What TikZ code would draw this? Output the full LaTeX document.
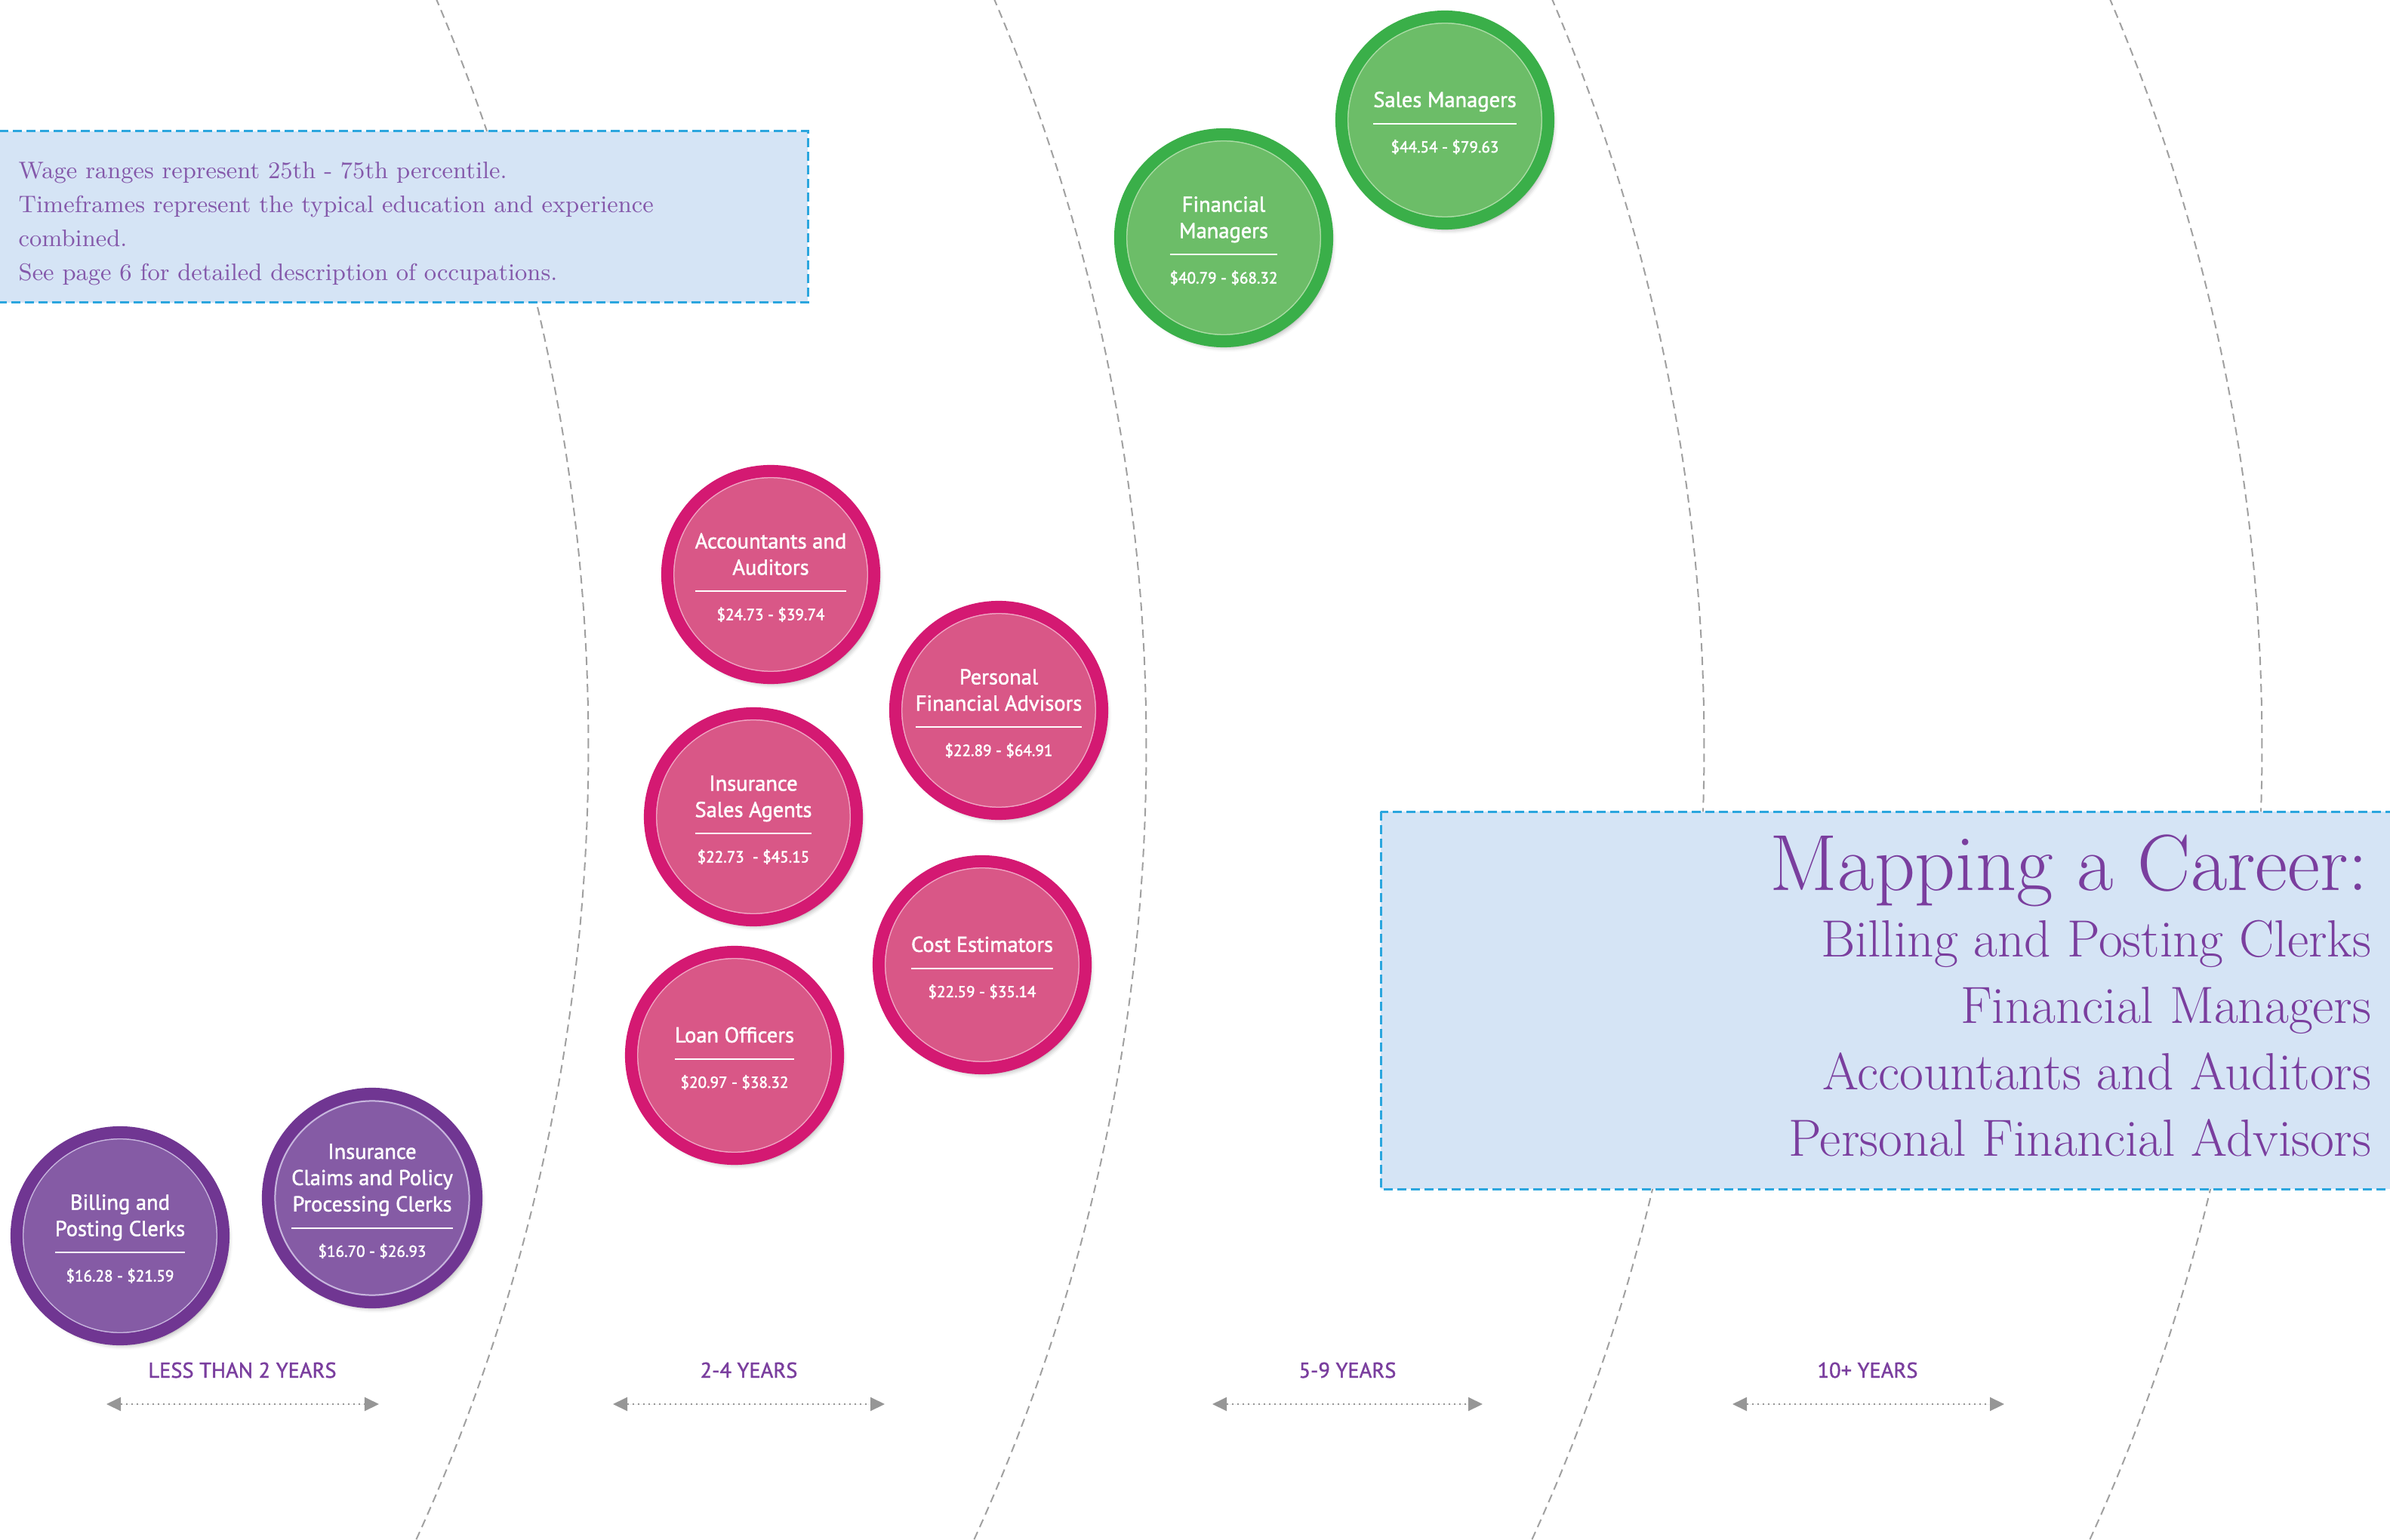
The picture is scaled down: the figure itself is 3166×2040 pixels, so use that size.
\documentclass[tikz,border=0pt]{standalone}
\usepackage{fontspec}
\setsansfont{PT Sans}
\newfontfamily\circfont[FakeBold=1.6]{PT Sans}
\newfontfamily\wagefont[FakeBold=2.2]{PT Sans}
\newfontfamily\yearfont[FakeBold=1.4]{PT Sans}
\usetikzlibrary{arrows.meta,shadows.blur}
\definecolor{ringpurple}{RGB}{112,54,146}
\definecolor{fillpurple}{RGB}{133,91,165}
\definecolor{linepurple}{RGB}{200,182,222}
\definecolor{ringpink}{RGB}{212,25,114}
\definecolor{fillpink}{RGB}{217,87,135}
\definecolor{linepink}{RGB}{240,165,195}
\definecolor{ringgreen}{RGB}{58,175,73}
\definecolor{fillgreen}{RGB}{108,189,104}
\definecolor{linegreen}{RGB}{172,220,166}
\definecolor{textpurple}{RGB}{122,62,158}
\definecolor{notepurple}{RGB}{132,88,170}
\definecolor{boxfill}{RGB}{213,228,245}
\definecolor{boxline}{RGB}{43,166,222}
\definecolor{arcgray}{RGB}{160,160,160}
\definecolor{arrowgray}{RGB}{150,150,150}
\setlength{\arrayrulewidth}{0.6pt}
\newcommand\joblabel[2]{\begin{tabular}{@{}c@{}}\noalign{\vskip 3.4pt}#1\\[3pt]\hline\noalign{\vskip 3.6pt}{\fontsize{6}{6}\wagefont #2}\end{tabular}}
\begin{document}
\begin{tikzpicture}[x=0.01cm,y=-0.01cm,
  arcline/.style={draw=arcgray, line width=0.02cm, dash pattern=on 0.11cm off 0.07cm},
  infobox/.style={fill=boxfill, draw=boxline, line width=0.03cm, dash pattern=on 0.12cm off 0.06cm},
  notetext/.style={text=notepurple, font=\fontsize{9}{12.8}\selectfont, inner sep=0pt, anchor=base west},
  titletext/.style={text=textpurple, inner sep=0pt, anchor=base east},
  circ/.style={circle, minimum size=2.74cm, inner sep=0pt, line width=0.16cm, text=white,
    font=\fontsize{8.1}{9.9}\circfont,
    blur shadow={shadow xshift=0.05cm, shadow yshift=-0.07cm, shadow blur radius=0.07cm, shadow opacity=40}},
  purplecirc/.style={circ, draw=ringpurple, fill=fillpurple,
    path picture={\draw[line width=0.02cm, linepurple] (path picture bounding box.center) circle (1.285cm);}},
  pinkcirc/.style={circ, draw=ringpink, fill=fillpink,
    path picture={\draw[line width=0.02cm, linepink] (path picture bounding box.center) circle (1.285cm);}},
  greencirc/.style={circ, draw=ringgreen, fill=fillgreen,
    path picture={\draw[line width=0.02cm, linegreen] (path picture bounding box.center) circle (1.285cm);}},
  yearlabel/.style={text=textpurple, font=\fontsize{8.1}{9.9}\yearfont, inner sep=0pt, anchor=base},
  yeararrow/.style={{Triangle[length=0.19cm,width=0.18cm]}-{Triangle[length=0.19cm,width=0.18cm]},
    draw=arrowgray, fill=arrowgray, line width=0.02cm, dash pattern=on 0.02cm off 0.05cm}
]
\useasboundingbox (0,0) rectangle (3166,2040);
% timeline arcs
\begin{scope}
\clip (0,0) rectangle (3166,2040);
\draw[arcline] (-1746,989) circle (25.24cm);
\draw[arcline] (-1007,989) circle (25.24cm);
\draw[arcline] (-268,989) circle (25.24cm);
\draw[arcline] (471,989) circle (25.24cm);
\end{scope}
% notes box
\draw[infobox] (-10,174) rectangle (1070,401);
\node[notetext] (note1) at (24,237) {Wage ranges represent 25th - 75th percentile.};
\node[notetext] (note2) at (24,282) {Timeframes represent the typical education and experience};
\node[notetext] (note3) at (24,327) {combined.};
\node[notetext] (note4) at (24,372) {See page 6 for detailed description of occupations.};
% title box
\draw[infobox] (1829,1075) rectangle (3180,1575);
\node[titletext, font=\fontsize{30}{32}\selectfont] (title) at (3138,1179) {Mapping a Career:};
\node[titletext, font=\fontsize{19.7}{22}\selectfont] (sub1) at (3142,1267) {Billing and Posting Clerks};
\node[titletext, font=\fontsize{19.7}{22}\selectfont] (sub2) at (3142,1355) {Financial Managers};
\node[titletext, font=\fontsize{19.7}{22}\selectfont] (sub3) at (3142,1443) {Accountants and Auditors};
\node[titletext, font=\fontsize{19.7}{22}\selectfont] (sub4) at (3142,1531) {Personal Financial Advisors};
% circles
\node[purplecirc] (billing) at (159,1637) {\joblabel{Billing and\\Posting Clerks}{\$16.28 - \$21.59}};
\node[purplecirc] (claims) at (493,1587) {\joblabel{Insurance\\Claims and Policy\\Processing Clerks}{\$16.70 - \$26.93}};
\node[pinkcirc] (acct) at (1021,761) {\joblabel{Accountants and\\Auditors}{\$24.73 - \$39.74}};
\node[pinkcirc] (pfa) at (1323,941) {\joblabel{Personal\\Financial Advisors}{\$22.89 - \$64.91}};
\node[pinkcirc] (isa) at (998,1082) {\joblabel{Insurance\\Sales Agents}{\$22.73 \ - \$45.15}};
\node[pinkcirc] (cost) at (1301,1278) {\joblabel{Cost Estimators}{\$22.59 - \$35.14}};
\node[pinkcirc] (loan) at (973,1398) {\joblabel{Loan Officers}{\$20.97 - \$38.32}};
\node[greencirc] (finmgr) at (1621,315) {\joblabel{Financial\\Managers}{\$40.79 - \$68.32}};
\node[greencirc] (salesmgr) at (1914,159) {\joblabel{Sales Managers}{\$44.54 - \$79.63}};
% year labels and arrows
\node[yearlabel] (y1) at (321,1825) {LESS THAN 2 YEARS};
\node[yearlabel] (y2) at (992,1825) {2-4 YEARS};
\node[yearlabel] (y3) at (1785,1825) {5-9 YEARS};
\node[yearlabel] (y4) at (2474,1825) {10+ YEARS};
\coordinate (a1l) at (141,1860); \coordinate (a1r) at (502,1860);
\coordinate (a2l) at (812,1860); \coordinate (a2r) at (1172,1860);
\coordinate (a3l) at (1606,1860); \coordinate (a3r) at (1964,1860);
\coordinate (a4l) at (2295,1860); \coordinate (a4r) at (2655,1860);
\draw[yeararrow] (a1l) -- (a1r);
\draw[yeararrow] (a2l) -- (a2r);
\draw[yeararrow] (a3l) -- (a3r);
\draw[yeararrow] (a4l) -- (a4r);
\end{tikzpicture}
\end{document}
